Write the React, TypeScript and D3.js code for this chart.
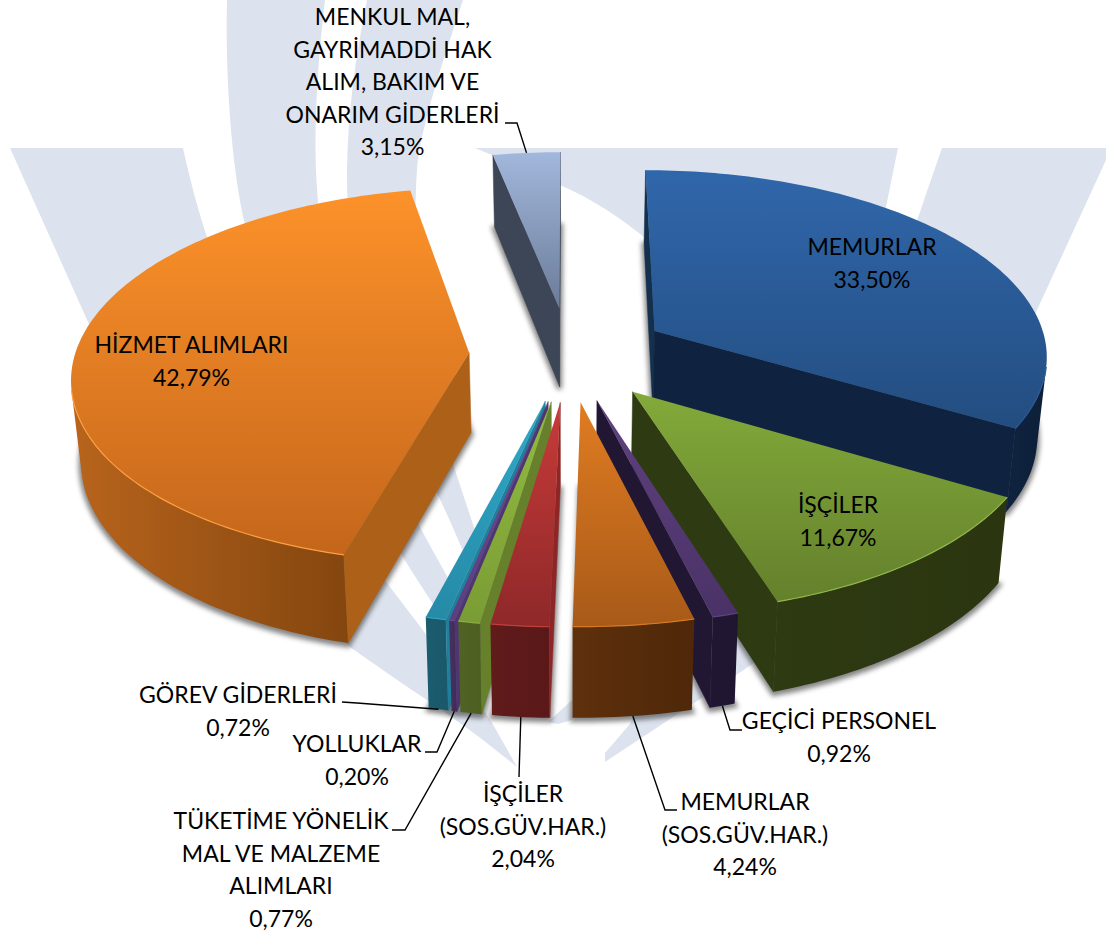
import React from "react";
import * as d3 from "d3";

// ---------- data ----------
const categories = ["MEMURLAR", "İŞÇİLER", "GEÇİCİ PERSONEL", "MEMURLAR (SOS.GÜV.HAR.)", "İŞÇİLER (SOS.GÜV.HAR.)", "TÜKETİME YÖNELİK MAL VE MALZEME ALIMLARI", "YOLLUKLAR", "GÖREV GİDERLERİ", "HİZMET ALIMLARI", "MENKUL MAL, GAYRİMADDİ HAK ALIM, BAKIM VE ONARIM GİDERLERİ"];
const values = [33.5, 11.67, 0.92, 4.24, 2.04, 0.77, 0.2, 0.72, 42.79, 3.15];
const valueLabels = ["33,50%", "11,67%", "0,92%", "4,24%", "2,04%", "0,77%", "0,20%", "0,72%", "42,79%", "3,15%"];

// ---------- styles (same order as the categories) ----------
const topLight = ["#3067ab", "#83aa3a", "#5f4180", "#e07c22", "#c83b39", "#93bc40", "#6c4b92", "#30a9ca", "#fd922a", "#a2b7dc"];
const topDark = ["#234d80", "#64802c", "#4a3266", "#a85a18", "#8e2829", "#7a9c35", "#5c3f7e", "#258aa6", "#c4661b", "#6b7c98"];
const rimLeft = ["#0f2340", "#2e3a12", "#221733", "#5f300c", "#601b1b", "#506224", "#483160", "#1b5c6e", "#b8641c", "#4a5568"];
const rimRight = ["#0d1f38", "#2b3610", "#1f1530", "#4e2809", "#5a1818", "#4d5f22", "#402b58", "#1a586a", "#84460f", "#444d5e"];
const faceA = ["#14304f", "#2e3a12", "#231834", "#4e2809", "#8e2626", "#66802c", "#4f3670", "#1f7f9c", "#ad6118", "#3d4656"];
const faceB = ["#0f2340", "#2e3a12", "#221733", "#5a2e0b", "#601b1b", "#4d5f22", "#483160", "#1b5c6e", "#ad6118", "#3d4656"];
const edgeGlow = ["#2b5a96", "#90b848", "#5f4180", "#d87a24", "#c0403c", "#8fb040", "#6c4b92", "#30a0c0", "#ffa040", "#a2b7dc"];

// ---------- projection constants ----------
const W = 1106, H = 932;
const CX = 569, CY = 354, RADIUS = 394, EXPLODE = 100;
const EYE = 3300, TILT = 0.47, THICK = 80;
const drawOrder = [9, 0, 8, 1, 2, 7, 6, 5, 3, 4];

function project(X: number, Y: number, z: number): [number, number] {
  const s = EYE / (EYE + Y);
  return [CX + X * s * (1 - 0.02 * z), CY - TILT * Y * s + z * THICK * Math.pow(s, 0.8)];
}

const TEXT_SIZE = 23;
const LINE = 32.6;
// label blocks: centre x, first baseline, lines
const labelBlocks: { i: number; x: number; y: number; lines: string[] }[] = [
  { i: 9, x: 392.5, y: 25, lines: ["MENKUL MAL,", "GAYRİMADDİ HAK", "ALIM, BAKIM VE", "ONARIM GİDERLERİ"] },
  { i: 8, x: 191.5, y: 353, lines: ["HİZMET ALIMLARI"] },
  { i: 0, x: 872, y: 255, lines: ["MEMURLAR"] },
  { i: 1, x: 838, y: 513, lines: ["İŞÇİLER"] },
  { i: 2, x: 839, y: 729, lines: ["GEÇİCİ PERSONEL"] },
  { i: 3, x: 745, y: 810, lines: ["MEMURLAR", "(SOS.GÜV.HAR.)"] },
  { i: 4, x: 523, y: 802, lines: ["İŞÇİLER", "(SOS.GÜV.HAR.)"] },
  { i: 5, x: 281, y: 829, lines: ["TÜKETİME YÖNELİK", "MAL VE MALZEME", "ALIMLARI"] },
  { i: 6, x: 357, y: 752, lines: ["YOLLUKLAR"] },
  { i: 7, x: 238, y: 703, lines: ["GÖREV GİDERLERİ"] },
];
// leader elbows: [label end, elbow]; the last point is computed from the slice
const leaders: { i: number; pts: [number, number][]; z: number }[] = [
  { i: 9, pts: [[505, 123], [517, 123]], z: 0 },
  { i: 2, pts: [[742, 730], [730, 730]], z: 1 },
  { i: 3, pts: [[677, 810], [665, 810]], z: 1 },
  { i: 4, pts: [[519, 777]], z: 1 },
  { i: 5, pts: [[392, 830], [405, 830]], z: 1 },
  { i: 6, pts: [[425, 752], [437, 752]], z: 1 },
  { i: 7, pts: [[342, 702], [357, 703]], z: 1 },
];

const line = d3.line<[number, number]>().x((d) => d[0]).y((d) => d[1]);
const closed = (pts: [number, number][]) => line(pts) + "Z";
const area = (p: [number, number][]) => {
  let a = 0;
  p.forEach((q, i) => {
    const n = p[(i + 1) % p.length];
    a += q[0] * n[1] - n[0] * q[1];
  });
  return a / 2;
};

const arcs = d3.pie<number>().sort(null).startAngle(0).endAngle(2 * Math.PI)(values);

function buildSlice(i: number) {
  const a = arcs[i];
  const mid = (a.startAngle + a.endAngle) / 2;
  const ox = EXPLODE * Math.sin(mid), oy = EXPLODE * Math.cos(mid);
  const n = Math.max(4, Math.ceil((a.endAngle - a.startAngle) / 0.02));
  const thetas = d3.range(n + 1).map((k) => a.startAngle + ((a.endAngle - a.startAngle) * k) / n);
  const rim = (z: number) => thetas.map((t) => project(ox + RADIUS * Math.sin(t), oy + RADIUS * Math.cos(t), z));
  const apex = (z: number) => project(ox, oy, z);
  const top = [apex(0), ...rim(0)];
  const bottom = [apex(1), ...rim(1)];
  const rT = rim(0), rB = rim(1);
  // the part of the rim wall that faces the viewer, as one polygon
  const visT: [number, number][] = [];
  const visB: [number, number][] = [];
  thetas.slice(0, -1).forEach((_, k) => {
    const q: [number, number][] = [rT[k], rT[k + 1], rB[k + 1], rB[k]];
    if (area(q) < 0) {
      if (!visT.length) { visT.push(rT[k]); visB.push(rB[k]); }
      visT.push(rT[k + 1]);
      visB.push(rB[k + 1]);
    }
  });
  const wall: [number, number][] = [...visT, ...[...visB].reverse()];
  const fStart: [number, number][] = [apex(0), rT[0], rB[0], apex(1)];
  const fEnd: [number, number][] = [apex(0), rT[n], rB[n], apex(1)];
  const ys = top.map((p) => p[1]);
  const wx = wall.map((p) => p[0]);
  return { i, top, bottom, wall, visT, fStart, fEnd, y0: d3.min(ys) as number, y1: d3.max(ys) as number, x0: (d3.min(wx) as number) || 0, x1: (d3.max(wx) as number) || 1, mid, ox, oy };
}

const slices = values.map((_, i) => buildSlice(i));

function anchor(i: number, z: number): [number, number] {
  const s = slices[i];
  return project(s.ox + RADIUS * Math.sin(s.mid), s.oy + RADIUS * Math.cos(s.mid), z);
}

const WM = "#dde3ee";
const watermark = [
  // outer left wedge
  "M10,148 L183,148 C190,180 198,210 207,237 C250,370 330,510 387,583 C400,600 413,617 425,633 C450,670 470,690 491,721 L517,767 C490,745 460,722 427,700 C400,682 375,665 350,647 C230,540 150,460 88,322 Z",
  // middle left band
  "M227,0 L325,0 C318,60 314,120 316,170 C318,220 325,260 340,320 C360,400 395,470 420,527 C435,555 460,600 490,650 L480,680 C460,640 435,610 403,557 C340,450 270,340 245,225 C232,170 225,80 227,0 Z",
  // inner left band
  "M367,0 L463,0 C440,70 420,130 417,170 C412,240 420,350 455,470 C465,500 478,540 495,590 L490,610 C470,570 455,530 437,493 C390,400 345,280 347,170 C348,110 355,60 367,0 Z",
  // top band on the right
  "M475,148 L898,148 L886,207 C870,260 860,300 850,330 L700,320 C680,285 665,258 645,238 C620,217 590,198 560,185 C530,170 505,160 475,148 Z",
  // right wedge
  "M942,148 L1106,148 L1106,160 L1037,310 C960,470 860,590 748,667 L673,717 L605,762 L605,753 L630,724 L700,560 C820,400 900,280 925,197 Z",
  // small piece between the near slices
  "M548,722 L572,700 L572,720 L558,724 Z",
];

export default function App() {
  return (
    <svg width={W} height={H} viewBox={`0 0 ${W} ${H}`} style={{ position: "absolute", left: 0, top: 0, display: "block", background: "#fff" }}>
      <defs>
        <filter id="soft" filterUnits="userSpaceOnUse" x={0} y={0} width={W} height={H}>
          <feGaussianBlur stdDeviation={2.6} />
        </filter>
        {slices.map((s) => (
          <linearGradient key={s.i} id={`top${s.i}`} gradientUnits="userSpaceOnUse" x1={0} x2={0} y1={s.y0} y2={s.y1}>
            <stop offset="0" stopColor={topLight[s.i]} />
            <stop offset="1" stopColor={topDark[s.i]} />
          </linearGradient>
        ))}
        {slices.map((s) => (
          <linearGradient key={s.i} id={`rim${s.i}`} gradientUnits="userSpaceOnUse" x1={s.x0} x2={s.x1} y1={0} y2={0}>
            <stop offset="0" stopColor={rimLeft[s.i]} />
            <stop offset="1" stopColor={rimRight[s.i]} />
          </linearGradient>
        ))}
      </defs>

      <g fill={WM}>{watermark.map((d, i) => <path key={i} d={d} />)}</g>

      {drawOrder.map((i) => {
        const s = slices[i];
        return (
          <g key={i} data-name={categories[i]}>
            <path d={closed(s.bottom)} transform="translate(0,2)" fill="#3a3a3a" stroke="#3a3a3a" strokeWidth={5} opacity={0.62} filter="url(#soft)" />
            {s.wall.length > 2 && <path d={closed(s.wall)} fill={`url(#rim${i})`} />}
            {area(s.fStart) < 0 && <path d={closed(s.fStart)} fill={faceA[i]} stroke={faceA[i]} strokeWidth={0.5} />}
            {area(s.fEnd) > 0 && <path d={closed(s.fEnd)} fill={faceB[i]} stroke={faceB[i]} strokeWidth={0.5} />}
            <path d={closed(s.top)} fill={`url(#top${i})`} />
            {s.visT.length > 1 && <path d={line(s.visT) as string} fill="none" stroke={edgeGlow[i]} strokeWidth={1.2} />}
          </g>
        );
      })}

      <g fill="none" stroke="#000" strokeWidth={1.4}>
        {leaders.map((l) => (
          <path key={l.i} d={line([...l.pts, anchor(l.i, l.z)]) as string} />
        ))}
      </g>

      <g fontFamily="Lato, 'Noto Sans', sans-serif" fontSize={TEXT_SIZE} fill="#000" textAnchor="middle">
        {labelBlocks.map((b) => (
          <text key={b.i} x={b.x} y={b.y}>
            {[...b.lines, valueLabels[b.i]].map((t, k) => (
              <tspan key={k} x={b.x} y={b.y + k * LINE}>{t}</tspan>
            ))}
          </text>
        ))}
      </g>
    </svg>
  );
}
